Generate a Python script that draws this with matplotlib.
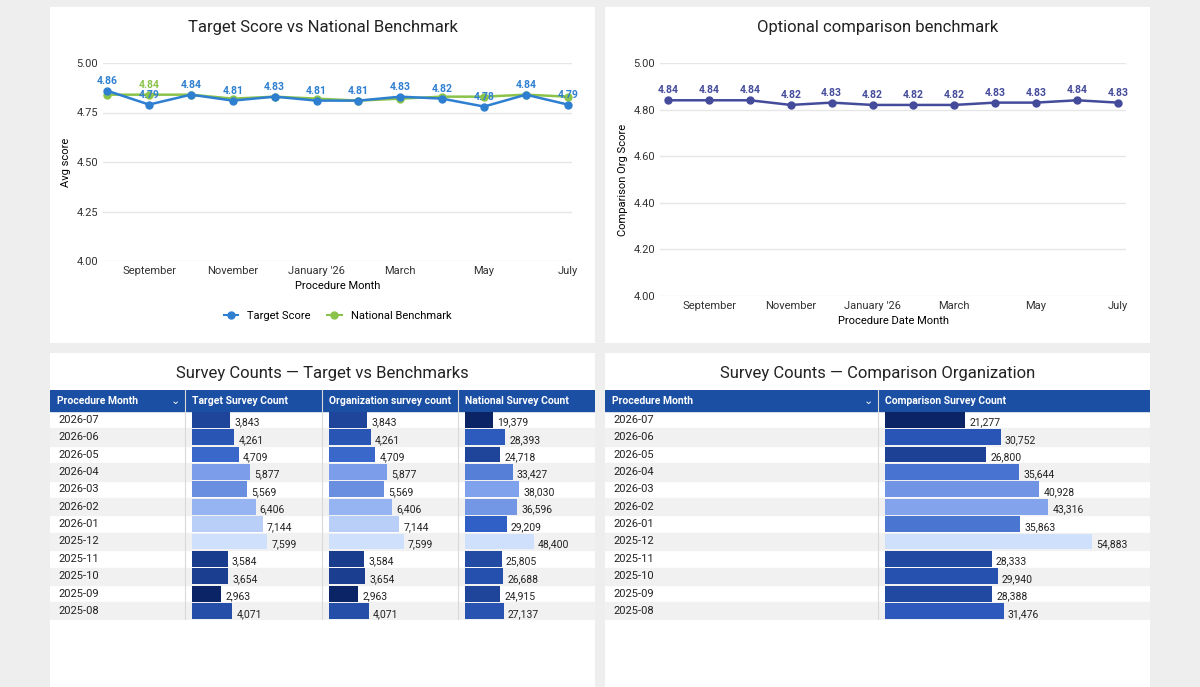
import matplotlib
matplotlib.use('Agg')
import matplotlib.pyplot as plt
from matplotlib.colors import LinearSegmentedColormap, Normalize
from matplotlib.patches import Rectangle
from matplotlib.lines import Line2D

plt.rcParams['font.family'] = ['Roboto', 'DejaVu Sans']

W, H = 1200, 687

months = ['2025-08', '2025-09', '2025-10', '2025-11', '2025-12', '2026-01',
          '2026-02', '2026-03', '2026-04', '2026-05', '2026-06', '2026-07']
target_score = [4.86, 4.79, 4.84, 4.81, 4.83, 4.81, 4.81, 4.83, 4.82, 4.78, 4.84, 4.79]
national_score = [4.84, 4.84, 4.84, 4.82, 4.83, 4.82, 4.81, 4.82, 4.83, 4.83, 4.84, 4.83]
comparison_score = [4.84, 4.84, 4.84, 4.82, 4.83, 4.82, 4.82, 4.82, 4.83, 4.83, 4.84, 4.83]
tick_pos = [1, 3, 5, 7, 9, 11]
tick_labels = ['September', 'November', "January '26", 'March', 'May', 'July']

# table rows, newest first
table_months = ['2026-07', '2026-06', '2026-05', '2026-04', '2026-03', '2026-02',
                '2026-01', '2025-12', '2025-11', '2025-10', '2025-09', '2025-08']
target_count = [3843, 4261, 4709, 5877, 5569, 6406, 7144, 7599, 3584, 3654, 2963, 4071]
org_count = [3843, 4261, 4709, 5877, 5569, 6406, 7144, 7599, 3584, 3654, 2963, 4071]
national_count = [19379, 28393, 24718, 33427, 38030, 36596, 29209, 48400, 25805, 26688, 24915, 27137]
comparison_count = [21277, 30752, 26800, 35644, 40928, 43316, 35863, 54883, 28333, 29940, 28388, 31476]

BLUE = '#2f7fd1'
GREEN = '#8bc34a'
PURPLE = '#444b9a'
HEADER = '#1a4fa3'
GRID = '#e6e6e6'
cmap = LinearSegmentedColormap.from_list('bars', ['#0b2466', '#2f5fc4', '#86a6ef', '#cfe0fc'])

fig = plt.figure(figsize=(W / 100, H / 100), dpi=100)
fig.patch.set_facecolor('#eeeeee')


def px(x, y, w, h, **kw):
    return fig.add_axes([x / W, 1 - (y + h) / H, w / W, h / H], **kw)


def card(x, y, w, h):
    ax = px(x, y, w, h)
    ax.set_xlim(0, 1)
    ax.set_ylim(0, 1)
    ax.add_patch(Rectangle((0, 0), 1, 1, color='white'))
    ax.axis('off')
    return ax


def style_line_ax(ax):
    for s in ax.spines.values():
        s.set_visible(False)
    ax.grid(axis='y', color=GRID, lw=1)
    ax.tick_params(length=0, labelsize=8, colors='#333333')
    ax.set_axisbelow(True)


# top-left card
c = card(50, 7, 545, 336)
c.text(0.5, 0.94, 'Target Score vs National Benchmark', ha='center', va='center', fontsize=12, color='#222222')
ax = px(103, 63, 469, 198)
style_line_ax(ax)
xs = range(len(months))
ax.plot(xs, national_score, color=GREEN, marker='o', ms=5, lw=1.8)
ax.plot(xs, target_score, color=BLUE, marker='o', ms=5, lw=1.8)
for i, v in enumerate(target_score):
    ax.annotate('%.2f' % v, (i, v), xytext=(0, 5), textcoords='offset points', ha='center',
                fontsize=7.5, color=BLUE, fontweight='bold')
ax.annotate('%.2f' % national_score[1], (1, national_score[1]), xytext=(0, 5), textcoords='offset points',
            ha='center', fontsize=7.5, color=GREEN, fontweight='bold')
ax.set_ylim(4.0, 5.0)
ax.set_yticks([4.0, 4.25, 4.5, 4.75, 5.0])
ax.set_yticklabels(['4.00', '4.25', '4.50', '4.75', '5.00'])
ax.set_xlim(-0.1, 11.1)
ax.set_xticks(tick_pos)
ax.set_xticklabels(tick_labels)
ax.set_xlabel('Procedure Month', fontsize=8, labelpad=4)
ax.set_ylabel('Avg score', fontsize=8)
ax.legend(handles=[Line2D([], [], color=BLUE, marker='o', ms=5, label='Target Score'),
                   Line2D([], [], color=GREEN, marker='o', ms=5, label='National Benchmark')],
          loc='upper center', bbox_to_anchor=(0.5, -0.2), ncol=2, frameon=False, fontsize=8,
          handlelength=1.3, columnspacing=1.5)

# top-right card
c = card(605, 7, 545, 336)
c.text(0.5, 0.94, 'Optional comparison benchmark', ha='center', va='center', fontsize=12, color='#222222')
ax = px(660, 63, 466, 233)
style_line_ax(ax)
ax.plot(xs, comparison_score, color=PURPLE, marker='o', ms=5, lw=1.8)
for i, v in enumerate(comparison_score):
    ax.annotate('%.2f' % v, (i, v), xytext=(0, 5), textcoords='offset points', ha='center',
                fontsize=7.5, color=PURPLE, fontweight='bold')
ax.set_ylim(4.0, 5.0)
ax.set_yticks([4.0, 4.2, 4.4, 4.6, 4.8, 5.0])
ax.set_yticklabels(['4.00', '4.20', '4.40', '4.60', '4.80', '5.00'])
ax.set_xlim(-0.2, 11.2)
ax.set_xticks(tick_pos)
ax.set_xticklabels(tick_labels)
ax.set_xlabel('Procedure Date Month', fontsize=8, labelpad=4)
ax.set_ylabel('Comparison Org Score', fontsize=8)


def table(x0, title, cols, widths, fracs):
    total = sum(widths)
    c = card(x0, 353, total, 334)
    c.text(0.5, 0.94, title, ha='center', va='center', fontsize=12, color='#222222')
    n = len(table_months)
    row_h = 17.4
    top = 411
    bg = px(x0, 390, total, 21 + n * row_h)
    bg.set_xlim(0, total)
    bg.set_ylim(21 + n * row_h, 0)
    bg.axis('off')
    bg.add_patch(Rectangle((0, 0), total, 21, color=HEADER))
    for r in range(n):
        if r % 2 == 1:
            bg.add_patch(Rectangle((0, 21 + r * row_h), total, row_h, color='#f1f1f1'))
        bg.text(8, 21 + (r + 0.5) * row_h, table_months[r], va='center', fontsize=8, color='#222222')
    names = ['Procedure Month'] + [cname for cname, _ in cols]
    cx = 0
    for i, w in enumerate(widths):
        bg.text(cx + 7, 10.5, names[i], va='center', fontsize=7.5, color='white', fontweight='bold')
        if i > 0:
            bg.axvline(cx, color='#d9d9d9', lw=0.8)
        cx += w
    bg.text(widths[0] - 10, 10.5, '\u2304', va='center', ha='center', fontsize=8, color='white')
    cx = x0 + widths[0]
    for (cname, vals), w, frac in zip(cols, widths[1:], fracs):
        bx = px(cx + 7, top, w - 7, n * row_h)
        bx.axis('off')
        norm = Normalize(min(vals), max(vals))
        bx.barh(range(n), vals, height=0.9, color=[cmap(norm(v)) for v in vals])
        bx.set_ylim(n - 0.5, -0.5)
        bx.set_xlim(0, max(vals) / frac * (w - 7) / (w - 7))
        for r, v in enumerate(vals):
            bx.annotate('{:,}'.format(v), (v, r), xytext=(3, -2), textcoords='offset points',
                        va='center', fontsize=7.5, color='#222222')
        cx += w


table(50, 'Survey Counts \u2014 Target vs Benchmarks',
      [('Target Survey Count', target_count), ('Organization survey count', org_count),
       ('National Survey Count', national_count)],
      [135, 137, 136, 137], [0.58, 0.58, 0.53])
table(605, 'Survey Counts \u2014 Comparison Organization',
      [('Comparison Survey Count', comparison_count)],
      [273, 272], [0.78])

fig.savefig('out.png', dpi=100, facecolor=fig.get_facecolor())
